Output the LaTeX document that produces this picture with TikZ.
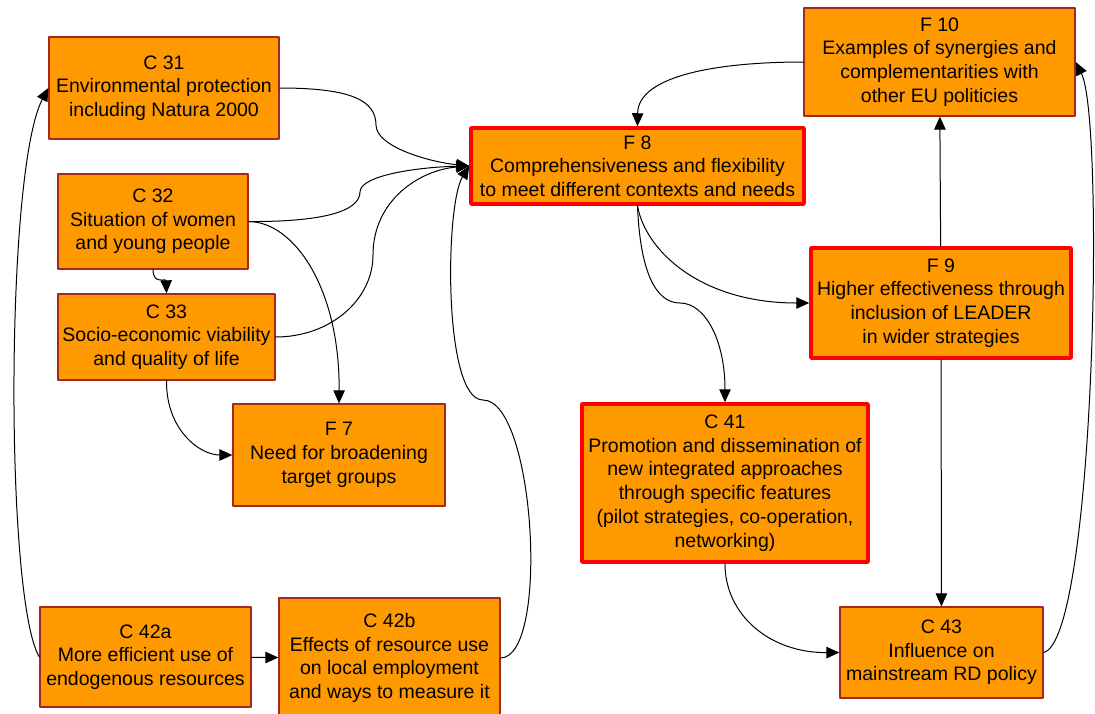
\documentclass[tikz,border=0pt]{standalone}
\usepackage{fontspec}
\setmainfont{Liberation Sans}
\usetikzlibrary{arrows.meta}
\definecolor{boxorange}{RGB}{255,153,0}
\definecolor{boxedge}{RGB}{165,40,30}

\begin{document}
\begin{tikzpicture}[line cap=round,line join=round,>={Triangle[length=13pt,width=11.5pt]},x=1pt,y=-1pt,
    box/.style={rectangle, draw=boxedge, line width=1.3pt, fill=boxorange, align=center, inner sep=0pt, font=\fontsize{19.5}{23.7}\selectfont},
    keybox/.style={box, draw=red, line width=3.5pt},
    link/.style={->, line width=1pt}]
                    \useasboundingbox (0,0) rectangle (1095,713);

                    % left column
                    \node[box, minimum width=230pt, minimum height=102pt] (c31) at (164,88) {C 31\\Environmental protection\\including Natura 2000};
                    \node[box, minimum width=190pt, minimum height=95pt] (c32) at (153,221.5) {C 32\\Situation of women\\and young people};
                    \node[box, minimum width=217pt, minimum height=86pt] (c33) at (166.5,337) {C 33\\Socio-economic viability\\and quality of life};
                    \node[box, minimum width=212pt, minimum height=102pt] (f7) at (339,455) {F 7\\Need for broadening\\target groups};
                    \node[box, minimum width=211pt, minimum height=100pt] (c42a) at (145.5,657) {C 42a\\More efficient use of\\endogenous resources};
                    \node[box, minimum width=221pt, minimum height=120pt] (c42b) at (389.5,658) {C 42b\\Effects of resource use\\on local employment\\and ways to measure it};

                    % right part
                    \node[keybox, minimum width=333pt, minimum height=76pt] (f8) at (637.5,166) {F 8\\Comprehensiveness and flexibility\\to meet different contexts and needs};
                    \node[box, minimum width=271pt, minimum height=108pt] (f10) at (939.5,62) {F 10\\Examples of synergies and\\complementarities with\\other EU politicies};
                    \node[keybox, minimum width=260pt, minimum height=110pt] (f9) at (941,303) {F 9\\Higher effectiveness through\\inclusion of LEADER\\in wider strategies};
                    \node[keybox, minimum width=286pt, minimum height=158pt] (c41) at (725,483) {C 41\\Promotion and dissemination of\\new integrated approaches\\through specific features\\(pilot strategies, co-operation,\\networking)};
                    \node[box, minimum width=203pt, minimum height=91pt] (c43) at (941.5,652.5) {C 43\\Influence on\\mainstream RD policy};

                    % links into F 8
                    \draw[link] (c31.east) .. controls (350,88) and (376,100) .. (376,125) .. controls (376,147) and (430,162) .. (f8.west);
                    \draw[link] (c32.east) .. controls (320,222) and (360,212) .. (360,192) .. controls (360,175) and (420,167) .. (f8.west);
                    \draw[link] (c33.east) .. controls (330,337) and (373,300) .. (373,255) .. controls (373,200) and (420,170) .. (f8.west);
                    \draw[link] (c42b.east) .. controls (550,657) and (535,400) .. (483,400) .. controls (443,400) and (445,205) .. (f8.west);

                    % left column links
                    \draw[link] (c32.south) .. controls (153,285) and (166,278) .. (c33.north);
                    \draw[link] (c32.east) .. controls (295,222) and (340,290) .. (f7.north);
                    \draw[link] (c33.south) .. controls (166,430) and (200,455) .. (f7.west);
                    \draw[link] (c42a.west) .. controls (5,600) and (5,170) .. (c31.west);
                    \draw[link] (c42a) -- (c42b);

                    % right part links
                    \draw[link] (f10.west) .. controls (720,62) and (638,75) .. (f8.north);
                    \draw[link] (f8.south) .. controls (645,250) and (700,303) .. (f9.west);
                    \draw[link] (f8.south) .. controls (640,270) and (655,303) .. (680,303) .. controls (705,303) and (725,340) .. (c41.north);
                    \draw[link] (f9) -- (f10);
                    \draw[link] (f9) -- (c43);
                    \draw[link] (c41.south) .. controls (725,615) and (770,653) .. (c43.west);
                    \draw[link] (c43.east) .. controls (1095,640) and (1105,120) .. (f10.east);
                \end{tikzpicture}
\end{document}
